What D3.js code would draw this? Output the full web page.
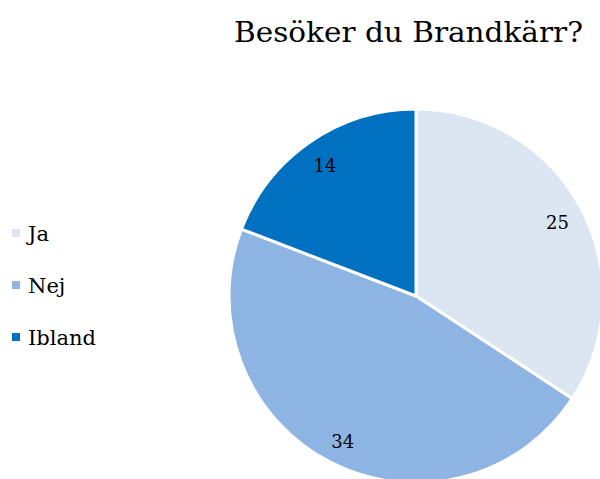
<!DOCTYPE html>
<html><head><meta charset="utf-8">
<script src="https://cdn.jsdelivr.net/npm/d3@7"></script>
<style>body{margin:0;background:#fff;overflow:hidden}svg{display:block}</style>
</head><body>
<script>
const categories = ["Ja", "Nej", "Ibland"];
const values = [25, 34, 14];
const colors = ["#dce6f2", "#8eb4e3", "#0070c0"];
const title = "Besöker du Brandkärr?";

const W = 600, H = 479;
const font = "'DejaVu Serif', 'Liberation Serif', serif";
const svg = d3.select("body").append("svg").attr("width", W).attr("height", H);

svg.append("text").attr("x", 234).attr("y", 42)
  .attr("font-family", font).attr("font-size", 27).attr("fill", "#000")
  .attr("textLength", 349).attr("lengthAdjust", "spacingAndGlyphs").text(title);

const cx = 416, cy = 296, r = 187;
const pie = d3.pie().sort(null).value(d => d)(values);
const arc = d3.arc().innerRadius(0).outerRadius(r);
const g = svg.append("g").attr("transform", `translate(${cx},${cy})`);
g.selectAll("path").data(pie).enter().append("path")
  .attr("d", arc).attr("fill", (d, i) => colors[i])
  .attr("stroke", "#fff").attr("stroke-width", 3).attr("stroke-linejoin", "round");

const labelArc = d3.arc().innerRadius(r * 0.86).outerRadius(r * 0.86);
g.selectAll("text.lbl").data(pie).enter().append("text").attr("class", "lbl")
  .attr("transform", d => `translate(${labelArc.centroid(d)})`)
  .attr("text-anchor", "middle").attr("dy", "0.5em")
  .attr("font-family", font).attr("font-size", 18).attr("fill", "#000")
  .text(d => d.data);

const leg = svg.append("g");
categories.forEach((c, i) => {
  const y = 233 + i * 52;
  leg.append("rect").attr("x", 12).attr("y", y - 4).attr("width", 8).attr("height", 8).attr("fill", colors[i]);
  leg.append("text").attr("x", 28).attr("y", y).attr("dy", "0.38em")
    .attr("font-family", font).attr("font-size", 21).attr("fill", "#000").text(c);
});
</script>
</body></html>
